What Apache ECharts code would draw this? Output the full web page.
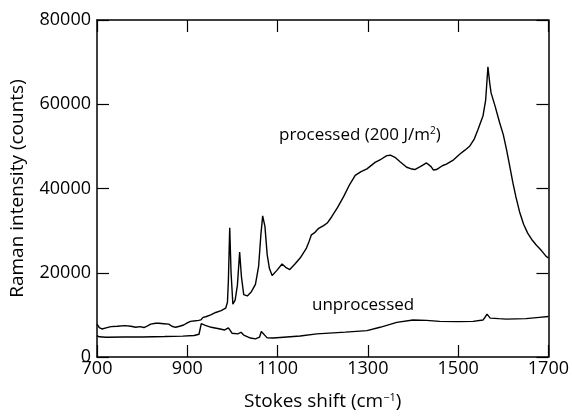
<!DOCTYPE html>
<html>
<head>
<meta charset="utf-8">
<script src="https://cdn.jsdelivr.net/npm/echarts@6/dist/echarts.min.js"></script>
<style>
  html, body { margin: 0; padding: 0; background: #fff; }
  #chart { width: 572px; height: 416px; }
</style>
</head>
<body>
<div id="chart"></div>
<script>
// Raman spectra
var processedX = [700, 705, 711, 720, 731, 745, 762, 775, 786, 795, 804, 812, 819, 830, 837, 848, 859, 866, 874, 883, 892, 900, 907, 918, 925, 930, 935, 941, 952, 963, 975, 985, 989, 991, 994, 997, 1001, 1006, 1011, 1016, 1020, 1025, 1033, 1042, 1051, 1058, 1063, 1067, 1072, 1077, 1082, 1088, 1098, 1110, 1118, 1127, 1138, 1150, 1164, 1170, 1175, 1183, 1191, 1202, 1210, 1220, 1233, 1246, 1260, 1272, 1285, 1298, 1316, 1330, 1342, 1350, 1360, 1372, 1386, 1395, 1404, 1418, 1430, 1440, 1445, 1452, 1456, 1465, 1474, 1490, 1504, 1515, 1526, 1536, 1544, 1555, 1561, 1566, 1570, 1573, 1582, 1592, 1600, 1607, 1614, 1621, 1628, 1636, 1645, 1654, 1663, 1673, 1685, 1695, 1700];
var processedY = [7800, 7000, 6650, 6900, 7200, 7300, 7450, 7300, 7050, 7200, 7000, 7400, 7800, 8000, 8000, 7900, 7800, 7300, 7050, 7300, 7600, 8100, 8460, 8600, 8700, 8800, 9400, 9560, 10000, 10570, 11000, 11590, 13000, 18000, 30700, 20000, 12530, 13500, 17000, 24900, 19000, 14800, 14500, 15500, 17230, 21500, 29000, 33500, 31000, 24300, 21000, 19350, 20500, 22090, 21300, 20760, 22000, 23500, 25850, 27500, 29000, 29600, 30550, 31200, 31800, 33300, 35500, 38000, 41000, 43100, 44000, 44650, 46200, 47000, 47800, 47900, 47400, 46300, 45050, 44700, 44500, 45300, 46060, 45200, 44400, 44500, 44650, 45400, 45800, 46800, 48200, 49100, 50100, 51800, 54000, 57200, 61000, 68900, 65000, 62700, 59500, 55600, 52800, 49350, 45500, 41500, 38000, 34500, 31500, 29400, 27900, 26600, 25200, 23900, 23500];

var unprocessedX = [700, 705, 720, 760, 800, 850, 890, 915, 926, 931, 940, 953, 970, 983, 987, 991, 995, 999, 1012, 1019, 1025, 1040, 1051, 1060, 1064, 1068, 1077, 1090, 1113, 1150, 1187, 1250, 1298, 1327, 1364, 1400, 1430, 1459, 1500, 1533, 1555, 1560, 1564, 1571, 1590, 1607, 1650, 1680, 1700];
var unprocessedY = [5100, 4800, 4700, 4750, 4750, 4850, 4950, 5100, 5400, 7900, 7500, 7050, 6700, 6420, 6500, 6900, 6300, 5640, 5480, 5875, 5200, 4500, 4300, 4700, 6040, 5600, 4540, 4500, 4700, 5000, 5480, 5900, 6270, 7050, 8225, 8770, 8700, 8460, 8400, 8460, 8770, 9500, 10180, 9240, 9100, 9000, 9100, 9400, 9600];

var xTicks = [700, 900, 1100, 1300, 1500, 1700];
var yTicks = [0, 20000, 40000, 60000, 80000];

function pairs(xs, ys) {
    return xs.map(function (x, i) { return [x, ys[i]]; });
}

var font = '"Open Sans", "DejaVu Sans", sans-serif';
var black = '#000';

var myChart = echarts.init(document.getElementById('chart'), null, { renderer: 'canvas' });

var axisCommon = {
    axisLine: { show: true, onZero: false, lineStyle: { color: black, width: 1.5 } },
    axisTick: { show: true, inside: true, length: 12, lineStyle: { color: black, width: 1.2 } },
    splitLine: { show: false }
};

function plain(v) { return String(v); }

var option = {
    backgroundColor: '#fff',
    animation: false,
    grid: { left: 96, right: 23, top: 20, bottom: 56 },
    xAxis: [
        Object.assign({
            type: 'value', position: 'bottom',
            min: xTicks[0], max: xTicks[xTicks.length - 1], interval: 200,
            axisLabel: { color: black, fontSize: 18, fontFamily: font, margin: 3, formatter: plain },
            name: 'Stokes shift (cm{sup|\u22121})',
            nameLocation: 'middle', nameGap: 35,
            nameTextStyle: {
                color: black, fontSize: 19, fontFamily: font,
                rich: { sup: { fontSize: 11, verticalAlign: 'top', padding: [0, 0, 8, 0], fontFamily: font, color: black } }
            }
        }, axisCommon),
        Object.assign({
            type: 'value', position: 'top',
            min: xTicks[0], max: xTicks[xTicks.length - 1], interval: 200,
            axisLabel: { show: false }
        }, axisCommon)
    ],
    yAxis: [
        Object.assign({
            type: 'value', position: 'left',
            min: yTicks[0], max: yTicks[yTicks.length - 1], interval: 20000,
            axisLabel: { color: black, fontSize: 18, fontFamily: font, margin: 6, formatter: plain },
            name: 'Raman intensity (counts)',
            nameLocation: 'middle', nameGap: 70, nameRotate: 90,
            nameTextStyle: { color: black, fontSize: 19, fontFamily: font }
        }, axisCommon),
        Object.assign({
            type: 'value', position: 'right',
            min: yTicks[0], max: yTicks[yTicks.length - 1], interval: 20000,
            axisLabel: { show: false }
        }, axisCommon)
    ],
    series: [
        {
            name: 'processed',
            type: 'line',
            data: pairs(processedX, processedY),
            showSymbol: false,
            lineStyle: { color: black, width: 1.4 }
        },
        {
            name: 'unprocessed',
            type: 'line',
            data: pairs(unprocessedX, unprocessedY),
            showSymbol: false,
            lineStyle: { color: black, width: 1.4 }
        }
    ],
    graphic: [
        {
            type: 'text', left: 279, top: 126,
            style: {
                text: 'processed (200 J/m{sup|2})',
                fill: black, font: '17px ' + font,
                rich: { sup: { fontSize: 10, verticalAlign: 'top', padding: [0, 0, 8, 0], fill: black, fontFamily: font } }
            }
        },
        {
            type: 'text', left: 312, top: 297,
            style: { text: 'unprocessed', fill: black, font: '17px ' + font }
        }
    ]
};

myChart.setOption(option);
</script>
</body>
</html>
